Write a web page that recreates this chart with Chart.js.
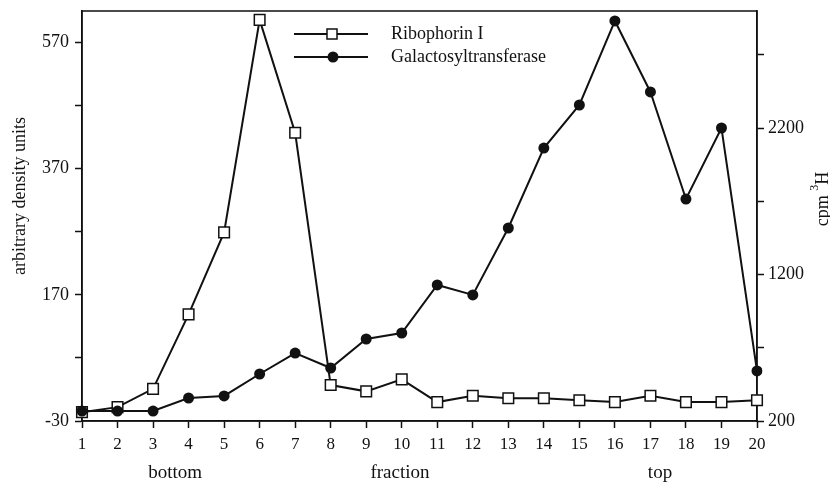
<!DOCTYPE html>
<html>
<head>
<meta charset="utf-8">
<script src="https://cdn.jsdelivr.net/npm/chart.js@4.4.1/dist/chart.umd.min.js"></script>
<style>
  html, body { margin: 0; padding: 0; background: #fff; }
  #wrap { width: 830px; height: 487px; }
</style>
</head>
<body>
<div id="wrap"><canvas id="chart"></canvas></div>
<script>
var fractions = ['1','2','3','4','5','6','7','8','9','10','11','12','13','14','15','16','17','18','19','20'];
var ribophorin = [-16, -8, 21, 139, 269, 606, 427, 27, 17, 36, 0, 10, 6, 6, 3, 0, 10, 0, 0, 3];
var galactosyl = [268, 268, 268, 357, 371, 521, 664, 562, 760, 801, 1129, 1061, 1518, 2064, 2358, 2932, 2447, 1716, 2201, 542];
var leftTicks = [-30, 70, 170, 270, 370, 470, 570];
var leftLabels = [-30, 170, 370, 570];
var rightTicks = [200, 700, 1200, 1700, 2200, 2700];
var rightLabels = [200, 1200, 2200];

var FONT = '"Liberation Serif", "DejaVu Serif", serif';

var framePlugin = {
    id: 'frame',
    beforeDatasetsDraw: function(chart) {
        var a = chart.chartArea, c = chart.ctx;
        c.save();
        c.strokeStyle = '#111';
        c.lineWidth = 1.5;
        c.strokeRect(a.left, a.top, a.right - a.left, a.bottom - a.top);
        c.restore();
    },
    afterDraw: function(chart) {
        var a = chart.chartArea, c = chart.ctx, xs = chart.scales.x;
        c.save();
        c.fillStyle = '#111';
        c.strokeStyle = '#111';

        // legend
        var rows = [
            {label: 'Ribophorin I', y: a.top + 23, square: true},
            {label: 'Galactosyltransferase', y: a.top + 46, square: false}
        ];
        c.font = '18px ' + FONT;
        c.textBaseline = 'middle';
        c.textAlign = 'left';
        rows.forEach(function(r) {
            c.lineWidth = 2;
            c.beginPath();
            c.moveTo(a.left + 212, r.y);
            c.lineTo(a.left + 286, r.y);
            c.stroke();
            if (r.square) {
                c.fillStyle = '#fff';
                c.fillRect(a.left + 245, r.y - 5, 10, 10);
                c.lineWidth = 1.5;
                c.strokeRect(a.left + 245, r.y - 5, 10, 10);
                c.fillStyle = '#111';
            } else {
                c.beginPath();
                c.arc(a.left + 251, r.y, 5.5, 0, Math.PI * 2);
                c.fill();
            }
            c.fillText(r.label, a.left + 309, r.y);
        });

        // left axis title
        c.font = '18px ' + FONT;
        c.textAlign = 'center';
        c.save();
        c.translate(20, 196);
        c.rotate(-Math.PI / 2);
        c.fillText('arbitrary density units', 0, 0);
        c.restore();

        // right axis title: cpm 3H
        c.save();
        c.translate(823, 199);
        c.rotate(-Math.PI / 2);
        c.textAlign = 'left';
        var w1 = c.measureText('cpm ').width;
        c.font = '12px ' + FONT;
        var w2 = c.measureText('3').width;
        c.font = '18px ' + FONT;
        var w3 = c.measureText('H').width;
        var x0 = -(w1 + w2 + w3) / 2;
        c.fillText('cpm ', x0, 0);
        c.font = '12px ' + FONT;
        c.fillText('3', x0 + w1, -8);
        c.font = '18px ' + FONT;
        c.fillText('H', x0 + w1 + w2, 0);
        c.restore();

        // bottom words
        c.font = '19px ' + FONT;
        c.textAlign = 'center';
        var yb = a.bottom + 52;
        c.fillText('bottom', xs.getPixelForValue(2.62), yb);
        c.fillText('fraction', xs.getPixelForValue(8.95), yb);
        c.fillText('top', xs.getPixelForValue(16.27), yb);
        c.restore();
    }
};

function noPad(s) { s.paddingTop = 0; s.paddingBottom = 0; }

var ctx = document.getElementById('chart');
var myChart = new Chart(ctx, {
    type: 'line',
    data: {
        labels: fractions,
        datasets: [{
            label: 'Ribophorin I',
            data: ribophorin,
            yAxisID: 'y',
            borderColor: '#111',
            borderWidth: 2,
            backgroundColor: '#fff',
            pointStyle: 'rect',
            pointRadius: 7.5,
            pointBorderWidth: 1.5,
            pointBorderColor: '#111',
            pointBackgroundColor: '#fff',
            tension: 0,
            order: 2
        }, {
            label: 'Galactosyltransferase',
            data: galactosyl,
            yAxisID: 'y1',
            borderColor: '#111',
            borderWidth: 2,
            backgroundColor: '#111',
            pointStyle: 'circle',
            pointRadius: 5.5,
            pointBorderWidth: 0,
            pointBackgroundColor: '#111',
            tension: 0,
            order: 1
        }]
    },
    options: {
        responsive: true,
        maintainAspectRatio: false,
        animation: false,
        layout: { padding: { top: 11, left: 0, right: 0, bottom: 0 } },
        plugins: {
            legend: { display: false },
            tooltip: { enabled: false }
        },
        scales: {
            x: {
                offset: false,
                grid: { drawOnChartArea: false, drawTicks: true, tickLength: 7, tickWidth: 1.5, color: '#111', offset: false },
                border: { display: true, color: '#111', width: 1.5 },
                ticks: { color: '#111', font: { family: FONT, size: 17 }, padding: 6, maxRotation: 0, autoSkip: false },
                afterFit: function(s) { s.height = 66; s.paddingLeft = 0; s.paddingRight = 0; }
            },
            y: {
                position: 'left',
                min: -30,
                max: 620,
                afterBuildTicks: function(s) { s.ticks = leftTicks.map(function(v) { return {value: v}; }); },
                grid: { drawOnChartArea: false, drawTicks: true, tickLength: 7, tickWidth: 1.5, color: '#111' },
                border: { display: true, color: '#111', width: 1.5 },
                ticks: {
                    color: '#111', font: { family: FONT, size: 18 }, padding: 6,
                    callback: function(v) { return leftLabels.indexOf(v) >= 0 ? String(v) : ''; }
                },
                afterFit: function(s) { s.width = 82; noPad(s); }
            },
            y1: {
                position: 'right',
                min: 200,
                max: 3000,
                afterBuildTicks: function(s) { s.ticks = rightTicks.map(function(v) { return {value: v}; }); },
                grid: { drawOnChartArea: false, drawTicks: true, tickLength: 7, tickWidth: 1.5, color: '#111' },
                border: { display: true, color: '#111', width: 1.5 },
                ticks: {
                    color: '#111', font: { family: FONT, size: 18 }, padding: 4,
                    callback: function(v) { return rightLabels.indexOf(v) >= 0 ? String(v) : ''; }
                },
                afterFit: function(s) { s.width = 73; noPad(s); }
            }
        }
    },
    plugins: [framePlugin]
});
</script>
</body>
</html>
